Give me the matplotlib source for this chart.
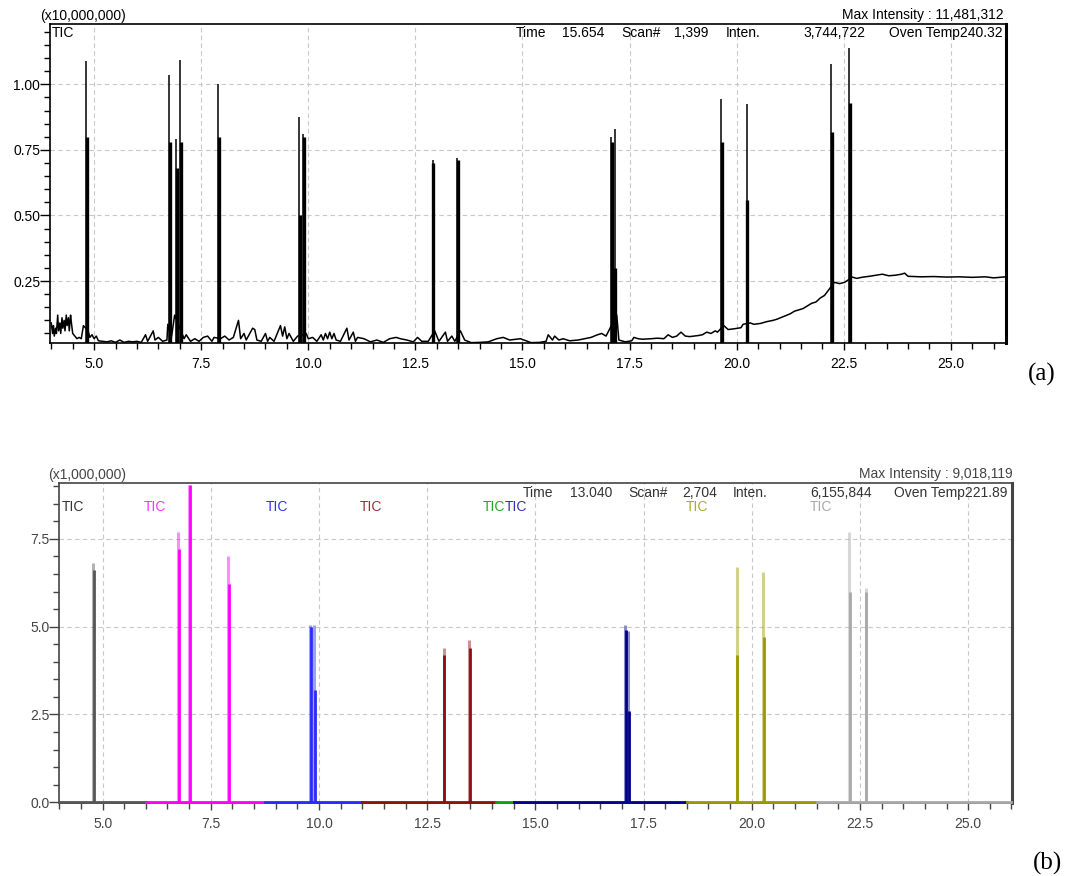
import numpy as np
import matplotlib.pyplot as plt
from matplotlib.ticker import MultipleLocator, FormatStrFormatter

plt.rcParams['font.family'] = ['Liberation Sans', 'DejaVu Sans']
plt.rcParams['font.size'] = 10

# ---- panel (a): TIC, intensity in units of 10,000,000 ----
base_t = [4.00, 4.03, 4.05, 4.07, 4.10, 4.12, 4.15, 4.17, 4.20, 4.22, 4.25, 4.27, 4.30, 4.32,
          4.35, 4.37, 4.40, 4.42, 4.45, 4.47, 4.50, 4.55, 4.60, 4.65, 4.70, 4.75, 4.86, 4.90,
          4.95, 5.00, 5.05, 5.10, 5.20, 5.30, 5.40, 5.50, 5.60, 5.70, 5.80, 5.90, 6.00, 6.10,
          6.20, 6.25, 6.38, 6.42, 6.50, 6.60, 6.70, 6.72, 6.80, 6.88, 7.05, 7.10, 7.15, 7.25,
          7.35, 7.45, 7.55, 7.65, 7.75, 7.80, 7.95, 8.05, 8.15, 8.25, 8.37, 8.42, 8.50, 8.55,
          8.70, 8.75, 8.80, 8.90, 9.00, 9.05, 9.10, 9.20, 9.35, 9.40, 9.45, 9.50, 9.55, 9.65,
          9.75, 9.95, 10.00, 10.10, 10.20, 10.30, 10.35, 10.40, 10.45, 10.50, 10.55, 10.60,
          10.65, 10.75, 10.90, 10.95, 11.05, 11.10, 11.15, 11.30, 11.45, 11.60, 11.75, 11.90,
          12.05, 12.15, 12.30, 12.45, 12.55, 12.65, 12.80, 12.95, 13.05, 13.20, 13.25, 13.35,
          13.42, 13.55, 13.65, 13.80, 14.00, 14.20, 14.40, 14.55, 14.70, 14.95, 15.20, 15.40,
          15.55, 15.60, 15.70, 15.75, 15.85, 15.95, 16.10, 16.30, 16.45, 16.60, 16.75, 16.85,
          16.95, 17.20, 17.25, 17.40, 17.55, 17.60, 17.70, 17.80, 18.00, 18.15, 18.30, 18.40,
          18.50, 18.60, 18.70, 18.80, 18.90, 19.00, 19.10, 19.20, 19.30, 19.40, 19.50, 19.55,
          19.70, 19.80, 19.95, 20.10, 20.15, 20.32, 20.40, 20.55, 20.70, 20.85, 20.95, 21.10,
          21.25, 21.35, 21.45, 21.55, 21.65, 21.75, 21.85, 21.95, 22.05, 22.12, 22.28, 22.40,
          22.52, 22.70, 22.80, 22.95, 23.10, 23.25, 23.40, 23.55, 23.70, 23.85, 23.92, 24.00,
          24.30, 24.60, 24.90, 25.20, 25.50, 25.80, 26.00, 26.28]
base_i = [0.09, 0.05, 0.08, 0.04, 0.07, 0.05, 0.12, 0.06, 0.09, 0.05, 0.11, 0.07, 0.10, 0.06,
          0.12, 0.08, 0.11, 0.06, 0.12, 0.09, 0.05, 0.04, 0.03, 0.035, 0.03, 0.08, 0.06, 0.035,
          0.045, 0.03, 0.04, 0.022, 0.02, 0.018, 0.022, 0.016, 0.025, 0.016, 0.02, 0.018, 0.02, 0.016,
          0.045, 0.02, 0.06, 0.025, 0.035, 0.02, 0.025, 0.085, 0.03, 0.12, 0.05, 0.03, 0.045, 0.02,
          0.03, 0.02, 0.035, 0.04, 0.02, 0.035, 0.03, 0.04, 0.025, 0.035, 0.10, 0.03, 0.05, 0.025,
          0.07, 0.065, 0.025, 0.02, 0.05, 0.02, 0.035, 0.02, 0.08, 0.04, 0.075, 0.03, 0.05, 0.02,
          0.04, 0.05, 0.03, 0.035, 0.02, 0.045, 0.025, 0.05, 0.03, 0.055, 0.03, 0.05,
          0.025, 0.02, 0.07, 0.025, 0.055, 0.02, 0.035, 0.03, 0.018, 0.025, 0.016, 0.03,
          0.035, 0.03, 0.025, 0.018, 0.035, 0.02, 0.02, 0.06, 0.02, 0.055, 0.02, 0.04,
          0.02, 0.06, 0.025, 0.015, 0.016, 0.018, 0.03, 0.035, 0.025, 0.03, 0.015, 0.016,
          0.02, 0.045, 0.025, 0.04, 0.025, 0.03, 0.022, 0.025, 0.03, 0.035, 0.045, 0.05,
          0.04, 0.12, 0.025, 0.018, 0.022, 0.035, 0.03, 0.028, 0.03, 0.032, 0.03, 0.045,
          0.035, 0.04, 0.055, 0.04, 0.038, 0.04, 0.042, 0.045, 0.055, 0.05, 0.06, 0.055,
          0.08, 0.065, 0.068, 0.072, 0.085, 0.09, 0.085, 0.088, 0.095, 0.10, 0.105, 0.115,
          0.125, 0.135, 0.14, 0.145, 0.155, 0.165, 0.17, 0.185, 0.195, 0.21, 0.245, 0.24,
          0.245, 0.265, 0.26, 0.265, 0.268, 0.272, 0.276, 0.27, 0.272, 0.276, 0.28, 0.268,
          0.266, 0.267, 0.265, 0.266, 0.264, 0.266, 0.262, 0.266]

peak_t = [4.81, 6.75, 6.92, 7.01, 7.90, 9.79, 9.88, 12.90, 13.48, 17.06, 17.15, 19.63, 20.23, 22.20, 22.62]
peak_h = [1.088, 1.035, 0.79, 1.094, 1.002, 0.875, 0.81, 0.71, 0.72, 0.80, 0.83, 0.945, 0.925, 1.076, 1.14]
peak_s = [0.80, 0.78, 0.68, 0.78, 0.80, 0.50, 0.80, 0.70, 0.71, 0.78, 0.30, 0.78, 0.56, 0.82, 0.93]

# ---- panel (b): overlaid TICs, intensity in units of 1,000,000 ----
trace_colors = ['#555555', '#ff00ff', '#2a2aff', '#8b1010', '#10a010', '#00008b', '#9a9a00', '#a8a8a8']
label_colors = ['#333333', '#ff33ff', '#3333ee', '#993333', '#22aa22', '#3333aa', '#aaaa33', '#aaaaaa']
trace_start = [4.0, 6.0, 8.75, 11.0, 14.1, 14.5, 18.5, 21.5]
trace_end = [6.0, 8.7, 11.0, 14.1, 14.5, 18.5, 21.5, 26.0]
label_x = [4.05, 6.21, 9.03, 11.2, 14.29, 14.29, 18.73, 21.6]
label_ha = ['left', 'center', 'center', 'center', 'right', 'left', 'center', 'center']

b_peak_t = [4.78, 6.74, 7.00, 7.90, 9.80, 9.88, 12.88, 13.47, 17.08, 17.15, 19.65, 20.26, 22.25, 22.63]
b_peak_h = [6.8, 7.7, 9.02, 7.0, 5.05, 5.05, 4.4, 4.63, 5.05, 4.88, 6.7, 6.55, 7.7, 6.1]
b_peak_s = [6.6, 7.2, 9.02, 6.2, 5.0, 3.2, 4.2, 4.4, 4.9, 2.6, 4.2, 4.7, 6.0, 6.0]
b_peak_trace = [0, 1, 1, 1, 2, 2, 3, 3, 5, 5, 6, 6, 7, 7]

W, H = 1066, 876
fig = plt.figure(figsize=(W / 100, H / 100), dpi=100)


def box(l, t, r, b):
    return [l / W, 1 - b / H, (r - l) / W, (b - t) / H]


def fpos(x, y):
    return x / W, 1 - y / H


def style(ax, ylim, ymaj, ymin, yfmt, col):
    ax.set_ylim(*ylim)
    ax.xaxis.set_major_locator(MultipleLocator(2.5))
    ax.xaxis.set_minor_locator(MultipleLocator(0.5))
    ax.yaxis.set_major_locator(MultipleLocator(ymaj))
    ax.yaxis.set_minor_locator(MultipleLocator(ymin))
    ax.xaxis.set_major_formatter(FormatStrFormatter('%.1f'))
    ax.yaxis.set_major_formatter(FormatStrFormatter(yfmt))
    ax.tick_params(axis='y', which='major', direction='out', length=7, width=1, pad=0, colors=col)
    ax.tick_params(axis='y', which='minor', direction='out', length=4, width=1, color=col)
    ax.tick_params(axis='x', which='major', direction='out', length=5, width=1, pad=5, colors=col)
    ax.tick_params(axis='x', which='minor', direction='out', length=4, width=1, color=col)
    ax.grid(True, which='major', linestyle=(0, (4, 3)), color='#c8c8c8', lw=0.8)
    ax.set_axisbelow(True)
    for s in ['left', 'bottom', 'top']:
        ax.spines[s].set_linewidth(1.2)
        ax.spines[s].set_color(col)
    ax.spines['right'].set_linewidth(2.2)
    ax.spines['right'].set_color(col)


# panel (a)
ax1 = fig.add_axes(box(50, 24, 1005.7, 343.3))
ax1.set_xlim(3.97, 26.28)
style(ax1, (0.0125, 1.23), 0.25, 0.05, '%.2f', 'black')
ax1.plot(base_t, base_i, color='black', lw=1.1, zorder=3)
ax1.vlines(peak_t, 0, peak_h, color='black', lw=1.1, zorder=3)
ax1.vlines(np.array(peak_t) + 0.02, 0, peak_s, color='black', lw=2.4, zorder=3)

fig.text(*fpos(40, 16), '(x10,000,000)', va='center', ha='left')
fig.text(*fpos(1004, 15), 'Max Intensity : 11,481,312', va='center', ha='right')
fig.text(*fpos(52, 33), 'TIC', va='center', ha='left')
for x, s, ha in [(516, 'Time', 'left'), (604, '15.654', 'right'), (621, 'Scan#', 'left'),
                 (708, '1,399', 'right'), (726, 'Inten.', 'left'), (865, '3,744,722', 'right'),
                 (1003, 'Oven Temp240.32', 'right')]:
    fig.text(*fpos(x, 33), s, va='center', ha=ha)
fig.text(*fpos(1042, 374), '(a)', va='center', ha='center', family='Liberation Serif', fontsize=18)

# panel (b)
ax2 = fig.add_axes(box(59.3, 483.3, 1012.3, 803))
ax2.set_xlim(4.0, 26.02)
style(ax2, (-0.02, 9.08), 2.5, 0.5, '%.1f', '#444444')
for i in range(len(trace_colors)):
    ax2.plot([trace_start[i], trace_end[i]], [0, 0], color=trace_colors[i], lw=2,
             zorder=3, clip_on=False)
    ax2.text(label_x[i], 8.4, 'TIC', color=label_colors[i], va='center', ha=label_ha[i])
for t, h, s, k in zip(b_peak_t, b_peak_h, b_peak_s, b_peak_trace):
    ax2.vlines(t, 0, h, color=trace_colors[k], lw=2.2, alpha=0.45, zorder=3)
    ax2.vlines(t + 0.02, 0, s, color=trace_colors[k], lw=2.0, zorder=3)

fig.text(*fpos(48, 475), '(x1,000,000)', va='center', ha='left', color='#444444')
fig.text(*fpos(1013, 474), 'Max Intensity : 9,018,119', va='center', ha='right', color='#444444')
for x, s, ha in [(523, 'Time', 'left'), (612, '13.040', 'right'), (628, 'Scan#', 'left'),
                 (717, '2,704', 'right'), (733, 'Inten.', 'left'), (872, '6,155,844', 'right'),
                 (1007, 'Oven Temp221.89', 'right')]:
    fig.text(*fpos(x, 493), s, va='center', ha=ha, color='#333333')
fig.text(*fpos(1047, 863), '(b)', va='center', ha='center', family='Liberation Serif', fontsize=18)

fig.savefig('out.png', dpi=100)
